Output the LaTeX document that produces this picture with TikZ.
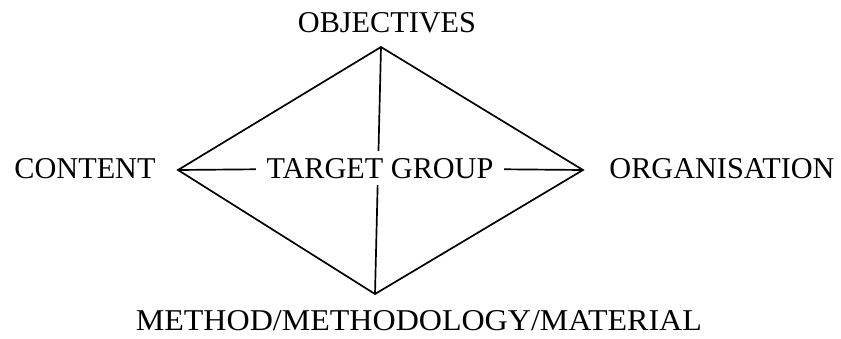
\documentclass[tikz,border=0pt]{standalone}
\usepackage{fontspec}
\setmainfont{Liberation Serif}
\usetikzlibrary{positioning}

\begin{document}
\begin{tikzpicture}[x=0.025cm,y=-0.025cm,line width=1.2pt,
  lbl/.style={font=\fontsize{21.5}{24}\selectfont,inner sep=0pt,anchor=base}]
\useasboundingbox (0,0) rectangle (841,338);
% corners of the diamond
\coordinate (top) at (381,47);
\coordinate (left) at (178,170);
\coordinate (right) at (583,170);
\coordinate (bottom) at (375,294);
\draw (top) -- (right) -- (bottom) -- (left) -- cycle;
\draw (top) -- (bottom);
\node[lbl,fill=white,inner xsep=7pt,inner ysep=5pt] (target) at (380,178) {TARGET GROUP};
\draw (left) -- (target);
\draw (target) -- (right);
% labels round it
\node[lbl] (obj) at (387,32) {OBJECTIVES};
\node[lbl] (cont) at (85,178) {CONTENT};
\node[lbl] (org) at (722,178) {ORGANISATION};
\node[lbl,anchor=base west] (meth) at (135,330) {\scalebox{1.06}[1]{METHOD/METHODOLOGY/MATERIAL}};
\end{tikzpicture}
\end{document}
